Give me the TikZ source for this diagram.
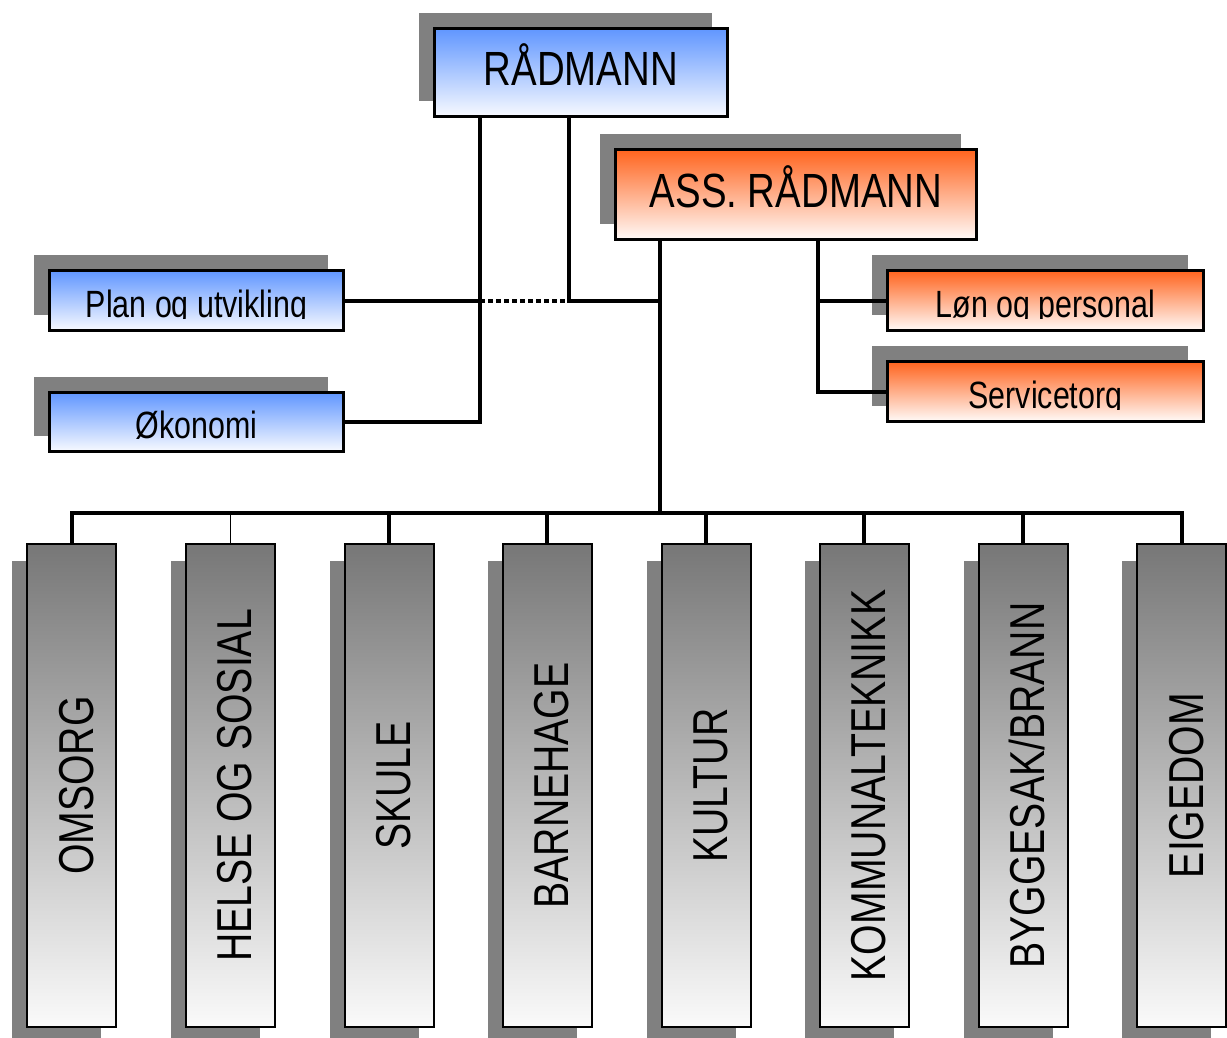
\documentclass[tikz,border=0pt]{standalone}
\usepackage{fontspec}
\setmainfont[FakeStretch=0.8]{Liberation Sans}
\usetikzlibrary{shadows,calc}

\definecolor{shadowgray}{RGB}{128,128,128}
\definecolor{bluetop}{RGB}{96,150,255}
\definecolor{bluebot}{RGB}{248,250,255}
\definecolor{orangetop}{RGB}{255,100,30}
\definecolor{orangebot}{RGB}{255,250,248}
\definecolor{graytop}{RGB}{119,119,119}
\definecolor{graybot}{RGB}{250,250,250}

\begin{document}
\begin{tikzpicture}[x=1pt,y=-1pt,
  unitbox/.style={draw=black, line width=3pt, inner sep=0pt, outer sep=0pt, line join=miter},
  topshadow/.style={general shadow={shadow xshift=-16pt, shadow yshift=16pt, fill=shadowgray}},
  bluebox/.style={unitbox, topshadow, top color=bluetop, bottom color=bluebot},
  orangebox/.style={unitbox, topshadow, top color=orangetop, bottom color=orangebot},
  deptbox/.style={draw=black, line width=2pt, inner sep=0pt, outer sep=0pt,
    minimum width=89pt, minimum height=483pt, top color=graytop, bottom color=graybot,
    general shadow={shadow xshift=-15pt, shadow yshift=-17pt, fill=shadowgray}},
  bigtext/.style={font=\fontsize{48}{50}\selectfont, inner sep=0pt, anchor=base},
  smalltext/.style={font=\fontsize{38}{40}\selectfont, inner sep=0pt, anchor=base},
  depttext/.style={font=\fontsize{49}{50}\selectfont, inner sep=0pt, rotate=90, anchor=base},
  link/.style={line width=4pt, line join=miter},
]
\useasboundingbox (0,0) rectangle (1227,1037);

% leadership boxes
\node[bluebox, minimum width=293pt, minimum height=88pt] (rad) at (581,72.5) {};
\node[orangebox, minimum width=361pt, minimum height=90pt] (ass) at (796,194.5) {};
\node[bigtext] (rad-t) at ([yshift=-12.5pt]rad.center) {RÅDMANN};
\node[bigtext] (ass-t) at ([yshift=-12.5pt]ass.center) {ASS. RÅDMANN};

% staff units
\node[bluebox, minimum width=294pt, minimum height=60pt] (plan) at (196.5,300.5) {};
\node[bluebox, minimum width=294pt, minimum height=59pt] (oko) at (196.5,422) {};
\node[orangebox, minimum width=316pt, minimum height=60pt] (lon) at (1045.5,300.5) {};
\node[orangebox, minimum width=316pt, minimum height=60pt] (serv) at (1045.5,391.5) {};

% staff labels, cut just below the baseline
\begin{scope}
  \clip (plan.north west) rectangle ([yshift=12pt]plan.south east);
  \node[smalltext] (plan-t) at ([yshift=-16.5pt]plan.center) {Plan og utvikling};
\end{scope}
\begin{scope}
  \clip (oko.north west) rectangle ([yshift=12pt]oko.south east);
  \node[smalltext] (oko-t) at ([yshift=-16pt]oko.center) {Økonomi};
\end{scope}
\begin{scope}
  \clip (lon.north west) rectangle ([yshift=12pt]lon.south east);
  \node[smalltext] (lon-t) at ([yshift=-16.5pt]lon.center) {Løn og personal};
\end{scope}
\begin{scope}
  \clip (serv.north west) rectangle ([yshift=12pt]serv.south east);
  \node[smalltext] (serv-t) at ([yshift=-16.5pt]serv.center) {Servicetorg};
\end{scope}

% departments
\node[deptbox] (omsorg)    at (71.5,785.5) {};
\node[deptbox] (helse)     at (230,785.5) {};
\node[deptbox] (skule)     at (389,785.5) {};
\node[deptbox] (barnehage) at (547,785.5) {};
\node[deptbox] (kultur)    at (706,785.5) {};
\node[deptbox] (kommunal)  at (864,785.5) {};
\node[deptbox] (bygg)      at (1023,785.5) {};
\node[deptbox] (eigedom)   at (1181.5,785.5) {};

\node[depttext] (omsorg-t)    at ([xshift=21.5pt]omsorg.center) {OMSORG};
\node[depttext] (helse-t)     at ([xshift=21.5pt]helse.center) {HELSE OG SOSIAL};
\node[depttext] (skule-t)     at ([xshift=21.5pt]skule.center) {SKULE};
\node[depttext] (barnehage-t) at ([xshift=21.5pt]barnehage.center) {BARNEHAGE};
\node[depttext] (kultur-t)    at ([xshift=21.5pt]kultur.center) {KULTUR};
\node[depttext] (kommunal-t)  at ([xshift=21.5pt]kommunal.center) {KOMMUNALTEKNIKK};
\node[depttext] (bygg-t)      at ([xshift=21.5pt]bygg.center) {BYGGESAK/BRANN};
\node[depttext] (eigedom-t)   at ([xshift=21.5pt]eigedom.center) {EIGEDOM};

% junction lines
\coordinate (radleft)   at (480,0);
\coordinate (radright)  at (569,0);
\coordinate (assleft)   at (660,0);
\coordinate (assright)  at (818,0);
\coordinate (bus)       at (0,513);

\draw[link] (rad.south -| radleft) |- (oko.east);
\draw[link] (plan.east) -- (plan.east -| radleft);
\draw[link, dash pattern=on 4.5pt off 3.5pt] (plan.east -| radleft) -- (plan.east -| radright);
\draw[link] (rad.south -| radright) |- (plan.east -| assleft);
\draw[link] (ass.south -| assleft) -- (bus -| assleft);
\draw[link] (ass.south -| assright) |- (serv.west);
\draw[link] (lon.west -| assright) -- (lon.west);

\draw[link] (omsorg.north) |- (eigedom.north |- bus) -- (eigedom.north);
\draw[line width=1pt] (helse.north) -- (helse.north |- bus);
\foreach \n in {skule,barnehage,kultur,kommunal,bygg}
  \draw[link] (\n.north) -- (\n.north |- bus);
\end{tikzpicture}
\end{document}
